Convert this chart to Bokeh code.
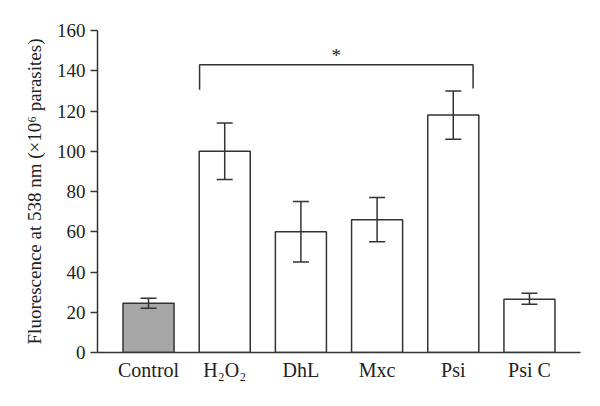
from bokeh.plotting import figure
from bokeh.models import ColumnDataSource, Whisker, FixedTicker, Range1d, Label
from bokeh.embed import file_html
from bokeh.resources import INLINE

categories = ["Control", "H₂O₂", "DhL", "Mxc", "Psi", "Psi C"]
values = [24.5, 100, 60, 66, 118, 26.5]
err_low = [22, 86, 45, 55, 106, 24]
err_high = [27, 114, 75, 77, 130, 29.5]
colors = ["#a6a6a6", "white", "white", "white", "white", "white"]
y_ticks = [0, 20, 40, 60, 80, 100, 120, 140, 160]

FONT = "Liberation Serif"
INK = "#333333"

x = list(range(len(categories)))
src = ColumnDataSource(dict(x=x, top=values, lo=err_low, hi=err_high, color=colors))

p = figure(width=600, height=406, output_backend="svg", toolbar_location=None,
           x_range=Range1d(-0.67, 5.67), y_range=Range1d(0, 160),
           min_border_left=97, min_border_right=20, min_border_top=30, min_border_bottom=54)
p.outline_line_color = None
p.grid.visible = False
p.background_fill_color = "white"

p.vbar(x="x", top="top", width=0.67, bottom=0, fill_color="color",
       line_color=INK, line_width=1.5, source=src)

w = Whisker(base="x", lower="lo", upper="hi", source=src, line_color=INK, line_width=1.5,
            level="overlay")
w.upper_head.size = 16
w.lower_head.size = 16
w.upper_head.line_color = INK
w.lower_head.line_color = INK
w.upper_head.line_width = 1.5
w.lower_head.line_width = 1.5
p.add_layout(w)

# significance bracket between H2O2 and Psi
br_x0, br_x1 = 0.67, 4.26
br_y, br_y0_left, br_y0_right = 143, 130.5, 131.2
p.line([br_x0, br_x0, br_x1, br_x1], [br_y0_left, br_y, br_y, br_y0_right],
       line_color=INK, line_width=1.5)
p.add_layout(Label(x=(br_x0 + br_x1) / 2, y=br_y, text="*", text_font=FONT,
                   text_font_size="19px", text_align="center", text_baseline="bottom",
                   text_color="#222222", y_offset=-1))

ya = p.yaxis[0]
ya.ticker = FixedTicker(ticks=y_ticks)
ya.axis_label = "Fluorescence at 538 nm (×10⁶ parasites)"
ya.axis_label_text_font = FONT
ya.axis_label_text_font_style = "normal"
ya.axis_label_text_font_size = "19px"
ya.axis_label_text_color = "#222222"
ya.axis_label_standoff = 9
ya.major_label_text_font = FONT
ya.major_label_text_font_size = "19px"
ya.major_label_text_color = "#222222"
ya.axis_line_color = INK
ya.axis_line_width = 1.5
ya.major_tick_line_color = INK
ya.major_tick_line_width = 1.5
ya.major_tick_out = 7
ya.major_tick_in = 0
ya.minor_tick_line_color = None

xa = p.xaxis[0]
xa.ticker = FixedTicker(ticks=x)
xa.major_label_overrides = {i: c for i, c in enumerate(categories)}
xa.major_label_text_font = FONT
xa.major_label_text_font_size = "20px"
xa.major_label_text_color = "#222222"
xa.axis_line_color = INK
xa.axis_line_width = 1.5
xa.major_tick_line_color = None
xa.minor_tick_line_color = None
xa.major_tick_out = 0
xa.major_label_standoff = 6

open("out.html", "w").write(file_html(p, INLINE))
